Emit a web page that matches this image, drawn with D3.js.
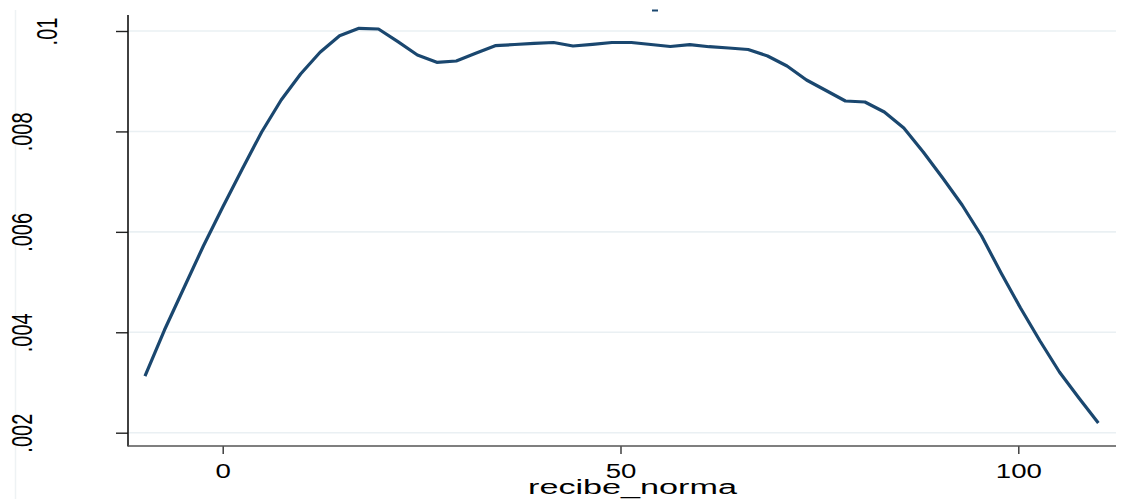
<!DOCTYPE html>
<html>
<head>
<meta charset="utf-8">
<script src="https://cdn.jsdelivr.net/npm/d3@7/dist/d3.min.js"></script>
<style>
  html, body { margin: 0; padding: 0; background: #ffffff; }
  svg { display: block; }
  text { font-family: "Liberation Sans", Arial, sans-serif; fill: #000; }
</style>
</head>
<body>
<svg id="chart" width="1132" height="499"></svg>
<script>
// ---- data ----
const xValues = [-9.77, -7.32, -4.88, -2.43, 0.01, 2.46, 4.90, 7.35, 9.79, 12.24,
  14.69, 17.13, 19.58, 22.02, 24.47, 26.91, 29.36, 31.80, 34.25, 36.70,
  39.14, 41.59, 44.03, 46.48, 48.92, 51.37, 53.82, 56.26, 58.71, 61.15,
  63.60, 66.04, 68.49, 70.93, 73.38, 75.83, 78.27, 80.72, 83.16, 85.61,
  88.05, 90.50, 92.94, 95.39, 97.84, 100.28, 102.73, 105.17, 107.62, 110.06];
const densityValues = [0.003129, 0.004045, 0.004882, 0.005718, 0.006495, 0.007252, 0.007989, 0.008626, 0.009144, 0.009576,
  0.009906, 0.010054, 0.010040, 0.009787, 0.009522, 0.009377, 0.009403, 0.009556, 0.009707, 0.009731,
  0.009755, 0.009771, 0.009701, 0.009735, 0.009771, 0.009771, 0.009731, 0.009691, 0.009727, 0.009687,
  0.009661, 0.009632, 0.009502, 0.009303, 0.009024, 0.008815, 0.008606, 0.008586, 0.008387, 0.008068,
  0.007590, 0.007072, 0.006535, 0.005917, 0.005180, 0.004483, 0.003826, 0.003209, 0.002691, 0.002193];
const xTicks = [0, 50, 100];
const xTickLabels = ["0", "50", "100"];
const yTicks = [0.002, 0.004, 0.006, 0.008, 0.010];
const yTickLabels = [".002", ".004", ".006", ".008", ".01"];
const xTitle = "recibe_norma";

// ---- layout ----
const svg = d3.select("#chart");
const plotLeft = 128, plotRight = 1116, plotTop = 15, plotBottom = 446;
const x = d3.scaleLinear().domain([0, 100]).range([222.7, 1018.3]);
const y = d3.scaleLinear().domain([0.002, 0.010]).range([432.7, 31]);
const lineColor = "#1a476f";

// faint outer frame line on the left
svg.append("line")
  .attr("x1", 15.5).attr("x2", 15.5).attr("y1", 10).attr("y2", 499)
  .attr("stroke", "#eef2f4").attr("stroke-width", 1.5);

// gridlines
svg.append("g").selectAll("line").data(yTicks).join("line")
  .attr("x1", plotLeft + 1).attr("x2", plotRight)
  .attr("y1", d => y(d)).attr("y2", d => y(d))
  .attr("stroke", "#eaf0f3").attr("stroke-width", 1.6);

// curve
const line = d3.line()
  .x((d, i) => x(xValues[i]))
  .y(d => y(d));
svg.append("path")
  .datum(densityValues)
  .attr("d", line)
  .attr("fill", "none")
  .attr("stroke", lineColor)
  .attr("stroke-width", 3.2)
  .attr("stroke-linejoin", "round");

// y axis
const yAxis = d3.axisLeft(y).tickValues(yTicks).tickSize(12)
  .tickFormat((d, i) => yTickLabels[i]);
const gy = svg.append("g").attr("transform", `translate(${plotLeft},0)`).call(yAxis);
gy.select(".domain").remove();
gy.selectAll(".tick line").attr("stroke", "#222").attr("stroke-width", 1.4);
gy.selectAll(".tick text")
  .attr("x", null).attr("dy", null).attr("y", null)
  .attr("text-anchor", "middle")
  .attr("font-size", 20)
  .attr("fill", "#000")
  .attr("transform", (d, i) => `translate(${i === yTicks.length - 1 ? -71 : -96},0) scale(1.45,1) rotate(-90)`);
svg.append("line")
  .attr("x1", plotLeft).attr("x2", plotLeft).attr("y1", plotTop).attr("y2", plotBottom + 0.5)
  .attr("stroke", "#111").attr("stroke-width", 1.6);

// x axis
const xAxis = d3.axisBottom(x).tickValues(xTicks).tickSize(8)
  .tickFormat((d, i) => xTickLabels[i]);
const gx = svg.append("g").attr("transform", `translate(0,${plotBottom})`).call(xAxis);
gx.select(".domain").remove();
gx.selectAll(".tick line").attr("stroke", "#333").attr("stroke-width", 1.4);
gx.selectAll(".tick text")
  .attr("y", null).attr("dy", null)
  .attr("text-anchor", "middle")
  .attr("font-size", 20)
  .attr("fill", "#000")
  .attr("transform", "translate(0,31.5) scale(1.38,1)");
svg.append("line")
  .attr("x1", plotLeft).attr("x2", plotRight).attr("y1", plotBottom).attr("y2", plotBottom)
  .attr("stroke", "#555").attr("stroke-width", 1.6);

// x title
svg.append("text")
  .attr("x", 632.5).attr("y", 493.5)
  .attr("text-anchor", "middle")
  .attr("font-size", 19.5)
  .attr("textLength", 209)
  .attr("lengthAdjust", "spacingAndGlyphs")
  .text(xTitle);

// tiny clipped title remnant at the top
svg.append("line")
  .attr("x1", 652).attr("x2", 658).attr("y1", 10.5).attr("y2", 10.5)
  .attr("stroke", lineColor).attr("stroke-width", 2);
</script>
</body>
</html>
